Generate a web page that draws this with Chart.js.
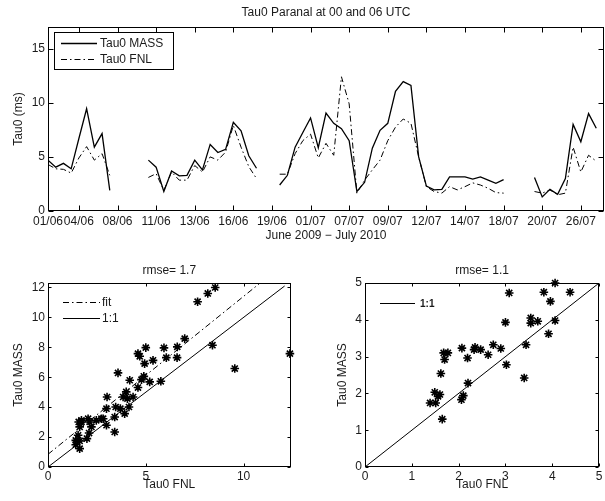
<!DOCTYPE html>
<html>
<head>
<meta charset="utf-8">
<script src="https://cdn.jsdelivr.net/npm/chart.js@4.4.0/dist/chart.umd.min.js"></script>
<style>
  body { margin: 0; background: #fff; width: 605px; height: 501px; position: relative; overflow: hidden; }
  canvas { position: absolute; }
  #topChart { left: 0; top: 0; }
  #leftChart { left: 0; top: 250px; }
  #rightChart { left: 300px; top: 250px; }
</style>
</head>
<body>
<canvas id="topChart" width="605" height="250" style="width:605px;height:250px"></canvas>
<canvas id="leftChart" width="300" height="251" style="width:300px;height:251px"></canvas>
<canvas id="rightChart" width="305" height="251" style="width:305px;height:251px"></canvas>
<script>
// sample number along the time axis, the null rows make the gaps
const sampleIdx = [2, 4, 6, 8, 10, 12, 14, 16, 18,
  23,
  28, 30, 32, 34, 36, 38, 40, 42, 44, 46, 48, 50, 52, 54, 56,
  59,
  62, 64, 66, 68, 70, 72, 74, 76, 78, 80, 82, 84, 86, 88, 90, 92, 94, 96, 98, 100,
  102, 104, 106, 108, 110, 112, 114, 116, 118, 120,
  124,
  128, 130, 132, 134, 136, 138, 140, 142, 144];

const massTau = [4.7, 4.05, 4.4, 3.9, 6.7, 9.45, 5.9, 7.15, 1.9,
  null,
  4.7, 4.05, 1.8, 3.7, 3.25, 3.3, 4.7, 3.8, 6.15, 5.4, 5.7, 8.2, 7.4, 5.1, 3.95,
  null,
  2.4, 3.3, 5.9, 7.25, 8.6, 5.85, 9.05, 8.1, 7.6, 6.5, 1.8, 2.65, 5.8, 7.45, 8.1, 11.05, 11.95, 11.6, 5.0, 2.3,
  1.95, 2.0, 3.15, 3.15, 3.15, 2.95, 3.15, 2.85, 2.55, 2.9,
  null,
  3.1, 1.3, 2.0, 1.55, 3.0, 8.0, 6.4, 9.0, 7.65];

const fnlTau = [4.3, 3.9, 3.85, 3.5, 4.9, 5.95, 4.7, 5.3, 3.3,
  null,
  3.1, 3.45, 1.9, 3.6, 2.85, 2.85, 4.2, 3.6, 5.0, 4.7, 5.45, 7.9, 5.9, 4.1, 3.0,
  null,
  3.4, 3.4, 5.3, 6.5, 7.1, 4.9, 6.25, 5.15, 12.4, 9.9, 1.65, 2.85, 3.8, 4.7, 6.5, 7.75, 8.5, 8.1, 5.0, 2.25,
  1.8, 1.65, 2.25, 1.95, 2.25, 2.6, 2.4, 2.1, 1.7, 1.65,
  null,
  1.8, 1.65, 1.95, 1.5, 1.65, 5.9, 3.6, 5.15, 4.6];

const dateTicks = [2, 10, 20, 30, 40, 50, 60, 70, 80, 90, 100, 110, 120, 130, 140];
const dateLabels = ['01/06', '04/06', '08/06', '11/06', '13/06', '16/06', '19/06', '01/07',
  '07/07', '09/07', '12/07', '14/07', '18/07', '20/07', '26/07'];
const tauTicks = [0, 5, 10, 15];

// all pairs, FNL vs MASS
const fnlAll = [8.55, 8.17, 7.65, 6.99, 5.93, 6.61, 6.6, 6.05, 5.37, 4.94, 5.0, 4.6, 4.69, 8.41, 9.55, 12.37,
  3.58, 4.9, 4.78, 4.18, 4.6, 5.2, 5.77, 4.35, 4.0, 4.06, 3.02, 3.84, 3.46, 3.7, 3.92, 4.14, 3.41, 2.99,
  2.99, 2.73, 2.47, 2.13, 2.05, 1.71, 1.71, 1.62, 2.22, 2.1, 1.99, 1.54, 1.42, 1.62, 1.42, 1.62, 3.41, 1.57, 2.82];
const massAll = [12.0, 11.6, 11.05, 8.58, 7.96, 8.03, 7.31, 7.31, 7.13, 6.91, 7.98, 7.58, 7.4, 8.14, 6.58, 7.58,
  6.29, 6.06, 5.84, 5.8, 5.31, 5.69, 5.73, 4.68, 5.02, 4.57, 4.68, 4.68, 4.01, 3.9, 3.57, 4.01, 3.34, 3.9,
  2.79, 3.23, 3.12, 3.01, 3.23, 3.01, 3.12, 2.68, 2.68, 2.27, 1.9, 2.12, 1.78, 1.74, 1.49, 1.23, 2.34, 3.01, 3.23];
const fitX = [0, 10.8];
const fitY = [0.85, 12.25];
const oneX = [0, 12.1];
const allXTicks = [0, 5, 10];
const allYTicks = [0, 2, 4, 6, 8, 10, 12];

// low tau subset
const fnlLow = [4.06, 3.82, 4.38, 3.08, 3.96, 3.0, 3.54, 3.54, 3.69, 4.06, 3.92, 3.44, 3.4, 3.02, 2.74, 2.9,
  2.63, 2.47, 2.35, 2.33, 2.07, 2.19, 2.2, 2.1, 2.06, 1.68, 1.77, 1.7, 1.62, 1.49, 1.39, 1.51, 1.56, 1.6, 1.65];
const massLow = [5.0, 4.75, 4.75, 4.73, 4.5, 3.93, 4.05, 3.91, 3.96, 3.98, 3.62, 3.32, 2.42, 2.78, 3.32, 3.22,
  3.05, 3.19, 3.25, 3.19, 3.23, 2.96, 2.28, 1.94, 1.83, 3.1, 3.1, 2.92, 2.54, 2.03, 1.74, 1.74, 1.92, 1.97, 1.3];
const oneLow = [0, 5];
const lowTicks = [0, 1, 2, 3, 4, 5];

Chart.defaults.font.family = '"Liberation Sans", Arial, sans-serif';
Chart.defaults.font.size = 12;
Chart.defaults.color = '#1a1a1a';

// box round the plot with matlab style inner ticks
const framePlugin = {
  id: 'frame',
  afterDatasetsDraw(chart, args, opts) {
    const ctx = chart.ctx;
    const a = chart.chartArea;
    const len = opts.tick || 4;
    const l = Math.round(a.left) + 0.5, r = Math.round(a.right) - 0.5;
    const t = Math.round(a.top) + 0.5, b = Math.round(a.bottom) - 0.5;
    ctx.save();
    ctx.strokeStyle = '#000';
    ctx.lineWidth = 1;
    ctx.setLineDash([]);
    ctx.strokeRect(l, t, r - l, b - t);
    ctx.beginPath();
    for (const tk of chart.scales.x.ticks) {
      const px = Math.round(chart.scales.x.getPixelForValue(tk.value)) + 0.5;
      ctx.moveTo(px, b); ctx.lineTo(px, b - len);
      ctx.moveTo(px, t); ctx.lineTo(px, t + len);
    }
    for (const tk of chart.scales.y.ticks) {
      const py = Math.round(chart.scales.y.getPixelForValue(tk.value)) + 0.5;
      ctx.moveTo(l, py); ctx.lineTo(l + len, py);
      ctx.moveTo(r, py); ctx.lineTo(r - len, py);
    }
    ctx.stroke();
    ctx.restore();
  }
};

const headingPlugin = {
  id: 'heading',
  afterDraw(chart, args, opts) {
    if (!opts.text) return;
    const a = chart.chartArea;
    const ctx = chart.ctx;
    ctx.save();
    ctx.font = '12px "Liberation Sans", Arial, sans-serif';
    ctx.fillStyle = '#1a1a1a';
    ctx.textAlign = 'center';
    ctx.textBaseline = 'middle';
    ctx.fillText(opts.text, (a.left + a.right) / 2, opts.y);
    ctx.restore();
  }
};

// legend drawn inside the axes
const keyPlugin = {
  id: 'keys',
  afterDraw(chart, args, opts) {
    if (!opts.items) return;
    const ctx = chart.ctx;
    ctx.save();
    if (opts.box) {
      ctx.fillStyle = '#fff';
      ctx.fillRect(opts.box[0], opts.box[1], opts.box[2], opts.box[3]);
      ctx.strokeStyle = '#000';
      ctx.lineWidth = 1;
      ctx.strokeRect(opts.box[0] + 0.5, opts.box[1] + 0.5, opts.box[2], opts.box[3]);
    }
    ctx.font = opts.font || '12px "Liberation Sans", Arial, sans-serif';
    ctx.textBaseline = 'middle';
    ctx.textAlign = 'left';
    for (const it of opts.items) {
      const ds = chart.data.datasets[it.ds];
      ctx.strokeStyle = '#000';
      ctx.lineWidth = ds.borderWidth;
      ctx.setLineDash(ds.borderDash || []);
      ctx.beginPath();
      ctx.moveTo(opts.x0, it.y + 0.5);
      ctx.lineTo(opts.x1, it.y + 0.5);
      ctx.stroke();
      ctx.setLineDash([]);
      ctx.fillStyle = '#1a1a1a';
      ctx.fillText(ds.label, opts.tx, it.y + 1);
    }
    ctx.restore();
  }
};

Chart.register(framePlugin, headingPlugin, keyPlugin);

function pairUp(xs, ys) {
  return xs.map((x, i) => ({ x: x, y: ys[i] }));
}

function fixedAxis(size, horizontal) {
  return function (s) {
    if (horizontal) s.height = size; else s.width = size;
    s.paddingLeft = 0; s.paddingRight = 0; s.paddingTop = 0; s.paddingBottom = 0;
  };
}

function setTicks(values) {
  return function (s) { s.ticks = values.map(v => ({ value: v })); };
}

const dashDot = [6, 3, 1.5, 3];

const topChart = new Chart('topChart', {
  type: 'line',
  data: {
    datasets: [{
      label: 'Tau0 MASS',
      data: pairUp(sampleIdx, massTau),
      borderColor: '#000',
      borderWidth: 1.3,
      pointRadius: 0,
      spanGaps: false
    }, {
      label: 'Tau0 FNL',
      data: pairUp(sampleIdx, fnlTau),
      borderColor: '#000',
      borderWidth: 1,
      borderDash: dashDot,
      pointRadius: 0,
      spanGaps: false
    }]
  },
  options: {
    responsive: false,
    animation: false,
    layout: { padding: { top: 27, right: 1, left: 0, bottom: 0 } },
    plugins: {
      legend: { display: false },
      tooltip: { enabled: false },
      heading: { text: 'Tau0 Paranal at 00 and 06 UTC', y: 13 },
      frame: { tick: 5 },
      keys: { box: [54, 32, 119, 37], x0: 61, x1: 97, tx: 100, items: [{ ds: 0, y: 43 }, { ds: 1, y: 59 }] }
    },
    scales: {
      x: {
        type: 'linear',
        min: 2,
        max: 146,
        grid: { display: false, drawTicks: false },
        border: { display: false },
        afterBuildTicks: setTicks(dateTicks),
        afterFit: fixedAxis(39, true),
        ticks: {
          padding: 3,
          autoSkip: false,
          maxRotation: 0,
          callback: v => dateLabels[dateTicks.indexOf(v)]
        },
        title: { display: true, text: 'June 2009 \u2212 July 2010', padding: { top: 0, bottom: 7 } }
      },
      y: {
        min: 0,
        max: 17,
        grid: { display: false, drawTicks: false },
        border: { display: false },
        afterBuildTicks: setTicks(tauTicks),
        afterFit: fixedAxis(48, false),
        ticks: { padding: 3 },
        title: { display: true, text: 'Tau0 (ms)', padding: { top: 11, bottom: 0 } }
      }
    }
  }
});

function scatterChart(id, cfg) {
  const chart = new Chart(id, {
    type: 'scatter',
    data: { datasets: cfg.datasets },
    options: {
      responsive: false,
      animation: false,
      layout: { padding: cfg.padding },
      plugins: {
        legend: { display: false },
        tooltip: { enabled: false },
        heading: { text: cfg.title, y: 21 },
        frame: { tick: 3 },
        keys: cfg.keys
      },
      scales: {
        x: {
          type: 'linear',
          min: cfg.xRange[0],
          max: cfg.xRange[1],
          grid: { display: false, drawTicks: false },
          border: { display: false },
          afterBuildTicks: setTicks(cfg.xTicks),
          afterFit: fixedAxis(34, true),
          ticks: { padding: 2, autoSkip: false, maxRotation: 0 },
          title: { display: true, text: 'Tau0 FNL', padding: { top: 0, bottom: 9 } }
        },
        y: {
          min: cfg.yRange[0],
          max: cfg.yRange[1],
          grid: { display: false, drawTicks: false },
          border: { display: false },
          afterBuildTicks: setTicks(cfg.yTicks),
          afterFit: fixedAxis(cfg.yWidth, false),
          ticks: { padding: 3 },
          title: { display: true, text: 'Tau0 MASS', padding: { top: cfg.yTitlePad, bottom: 0 } }
        }
      }
    }
  });
  return chart;
}

function starPoints(xs, ys) {
  return {
    label: 'data',
    data: pairUp(xs, ys),
    pointStyle: 'star',
    pointRadius: 4.3,
    borderColor: '#000',
    backgroundColor: '#000',
    borderWidth: 1.6,
    clip: 6
  };
}

function refLine(label, xs, ys, dash) {
  return {
    label: label,
    data: pairUp(xs, ys),
    showLine: true,
    pointRadius: 0,
    borderColor: '#000',
    borderWidth: 1,
    borderDash: dash || []
  };
}

const leftChart = scatterChart('leftChart', {
  title: 'rmse= 1.7',
  padding: { top: 33, right: 9.5, left: 0, bottom: 0 },
  xRange: [0, 12.4],
  yRange: [0, 12.3],
  xTicks: allXTicks,
  yTicks: allYTicks,
  yWidth: 48,
  yTitlePad: 11,
  datasets: [
    starPoints(fnlAll, massAll),
    refLine('fit', fitX, fitY, dashDot),
    refLine('1:1', oneX, oneX)
  ],
  keys: { x0: 63, x1: 100, tx: 102, items: [{ ds: 1, y: 52 }, { ds: 2, y: 68 }] }
});

const rightChart = scatterChart('rightChart', {
  title: 'rmse= 1.1',
  padding: { top: 33, right: 0, left: 0, bottom: 0 },
  xRange: [0, 5],
  yRange: [0, 5],
  xTicks: lowTicks,
  yTicks: lowTicks,
  yWidth: 65,
  yTitlePad: 35,
  datasets: [
    starPoints(fnlLow, massLow),
    refLine('1:1', oneLow, oneLow)
  ],
  keys: { x0: 80, x1: 115, tx: 120, font: 'bold 10px "Liberation Sans", Arial, sans-serif', items: [{ ds: 1, y: 53 }] }
});
</script>
</body>
</html>
